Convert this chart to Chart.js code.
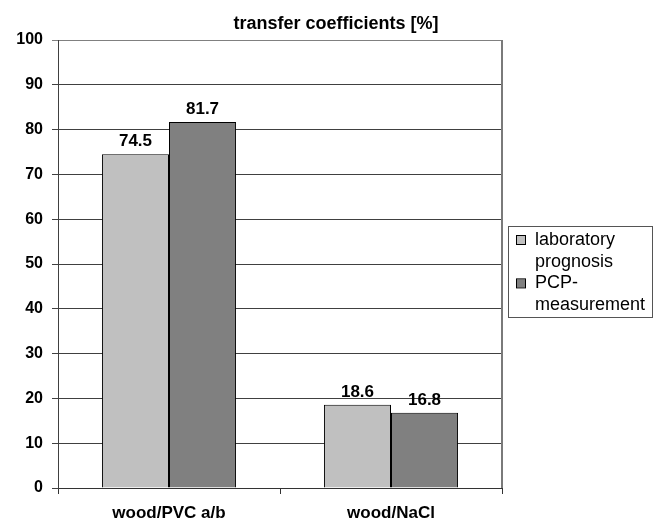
<!DOCTYPE html>
<html>
<head>
<meta charset="utf-8">
<script src="https://cdn.jsdelivr.net/npm/chart.js@4"></script>
<style>
  html, body { margin: 0; padding: 0; background: #fff; }
  #wrap { width: 653px; height: 520px; position: relative; }
</style>
</head>
<body>
<div id="wrap"><canvas id="c" width="653" height="520"></canvas></div>
<script>
const categories = ['wood/PVC a/b', 'wood/NaCl'];
const seriesNames = [['laboratory', 'prognosis'], ['PCP-', 'measurement']];
const labPrognosis = [74.5, 18.6];
const pcpMeasurement = [81.7, 16.8];
const yTicks = [0, 10, 20, 30, 40, 50, 60, 70, 80, 90, 100];
const titleText = 'transfer coefficients [%]';

const FONT = 'Arial, "Liberation Sans", sans-serif';

const decorations = {
  id: 'decorations',
  afterDatasetsDraw(chart) {
    const ctx = chart.ctx;
    const a = chart.chartArea;
    ctx.save();
    // right frame edge
    ctx.strokeStyle = '#7a7a7a';
    ctx.lineWidth = 2;
    ctx.beginPath();
    ctx.moveTo(Math.round(a.right), a.top);
    ctx.lineTo(Math.round(a.right), a.bottom);
    ctx.stroke();
    ctx.lineWidth = 1;

    // value labels above the bars
    ctx.fillStyle = '#000';
    ctx.font = 'bold 17px ' + FONT;
    ctx.textAlign = 'center';
    ctx.textBaseline = 'alphabetic';
    chart.data.datasets.forEach((ds, i) => {
      chart.getDatasetMeta(i).data.forEach((bar, j) => {
        ctx.fillText(ds.data[j].toFixed(1), bar.x, bar.y - 8);
      });
    });

    // title
    ctx.font = 'bold 18px ' + FONT;
    ctx.fillText(titleText, 336, 29);

    // category labels under the axis
    ctx.font = 'bold 17px ' + FONT;
    const xs = chart.scales.x;
    chart.data.labels.forEach((lab, i) => {
      ctx.fillText(lab, xs.getPixelForTick(i), 518);
    });

    // legend
    const lx = 508, ly = 226, lw = 144, lh = 91;
    ctx.strokeStyle = '#555';
    ctx.strokeRect(lx + 0.5, ly + 0.5, lw, lh);
    ctx.font = '18px ' + FONT;
    ctx.textAlign = 'left';
    ctx.textBaseline = 'middle';
    let y = ly + 14;
    chart.data.datasets.forEach((ds) => {
      ctx.fillStyle = ds.backgroundColor;
      ctx.fillRect(lx + 9, y - 4, 8, 8);
      ctx.strokeStyle = '#000';
      ctx.strokeRect(lx + 8.5, y - 4.5, 9, 9);
      ctx.fillStyle = '#000';
      ds.label.forEach((line) => {
        ctx.fillText(line, lx + 27, y);
        y += 21.7;
      });
    });
    ctx.restore();
  }
};

new Chart(document.getElementById('c'), {
  type: 'bar',
  data: {
    labels: categories,
    datasets: [
      {
        label: seriesNames[0],
        data: labPrognosis,
        backgroundColor: '#c0c0c0',
        borderColor: '#000',
        borderWidth: 1,
        categoryPercentage: 0.604,
        barPercentage: 1.0
      },
      {
        label: seriesNames[1],
        data: pcpMeasurement,
        backgroundColor: '#808080',
        borderColor: '#000',
        borderWidth: 1,
        categoryPercentage: 0.604,
        barPercentage: 1.0
      }
    ]
  },
  options: {
    responsive: false,
    animation: false,
    devicePixelRatio: 1,
    layout: { padding: { top: 40, right: 151, left: 0, bottom: 0 } },
    plugins: {
      legend: { display: false },
      title: { display: false },
      tooltip: { enabled: false }
    },
    scales: {
      x: {
        offset: true,
        grid: {
          offset: true,
          drawOnChartArea: false,
          drawTicks: true,
          tickLength: 6,
          color: '#333'
        },
        border: { display: true, color: '#333', width: 1 },
        ticks: { display: false },
        afterFit(scale) { scale.height = 32; }
      },
      y: {
        min: 0,
        max: 100,
        afterBuildTicks(scale) { scale.ticks = yTicks.map(v => ({ value: v })); },
        grid: {
          color: (c) => (c.tick && c.tick.value === 100 ? '#808080' : '#404040'),
          lineWidth: 1,
          drawTicks: true,
          tickLength: 6
        },
        border: { display: true, color: '#404040', width: 1 },
        ticks: {
          color: '#000',
          padding: 9,
          font: { family: FONT, size: 16, weight: 'bold' }
        },
        afterFit(scale) { scale.width = 58; }
      }
    }
  },
  plugins: [decorations]
});
</script>
</body>
</html>
